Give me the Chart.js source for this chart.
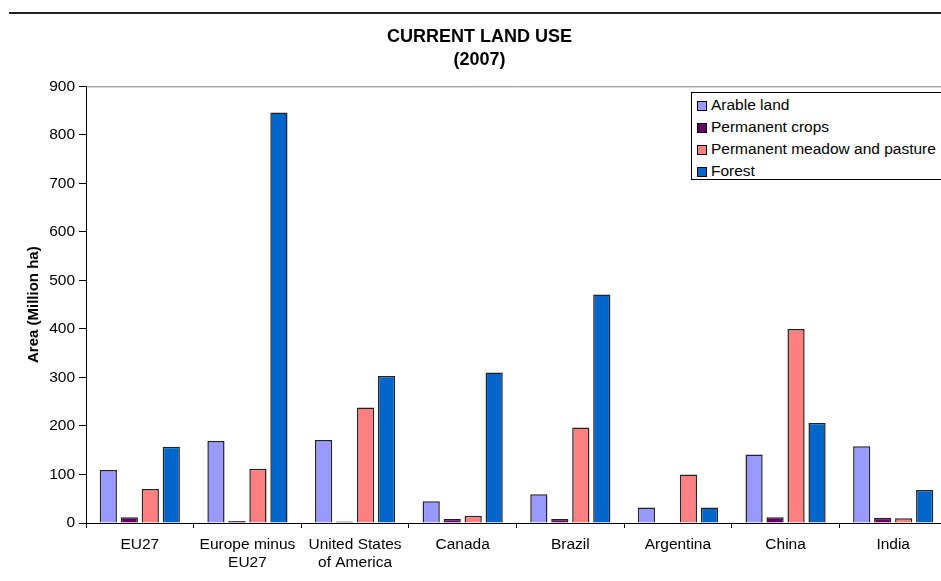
<!DOCTYPE html>
<html>
<head>
<meta charset="utf-8">
<title>Current land use (2007)</title>
<script src="https://cdn.jsdelivr.net/npm/chart.js@4.4.1/dist/chart.umd.min.js"></script>
<style>
  html, body { margin: 0; padding: 0; background: #fff; overflow: hidden; }
  #wrap { position: relative; width: 959px; height: 581px; overflow: hidden; }
  #legend {
    position: absolute; left: 691px; top: 92px; width: 300px; height: 85px;
    border: 1px solid #000; background: #fff; padding-top: 1px;
    font: 15.5px "Liberation Sans", Arial, sans-serif; color: #000;
  }
  #legend div { line-height: 22px; height: 22px; padding-left: 5px; white-space: nowrap; }
  #legend span {
    display: inline-block; width: 8px; height: 8px; border: 1px solid #000;
    margin-right: 4px; vertical-align: -1px;
  }
</style>
</head>
<body>
<div id="wrap">
  <canvas id="landChart"></canvas>
  <div id="legend"></div>
</div>
<script>
// categories and values (million ha)
var countries = ["EU27", ["Europe minus", "EU27"], ["United States", "of America"], "Canada", "Brazil", "Argentina", "China", "India"];
var arableLand = [109, 169, 171, 45, 59, 32, 141, 158];
var permanentCrops = [12, 4, 3, 8, 8, 1, 12, 11];
var meadowPasture = [70, 112, 238, 15, 197, 100, 400, 10];
var forest = [157, 846, 303, 310, 471, 32, 206, 68];
var yTicks = [0, 100, 200, 300, 400, 500, 600, 700, 800, 900];

var seriesNames = ["Arable land", "Permanent crops", "Permanent meadow and pasture", "Forest"];
var seriesColors = ["#9999FF", "#660066", "#FF8080", "#0066CC"];
var seriesData = [arableLand, permanentCrops, meadowPasture, forest];

var fontFamily = '"Liberation Sans", Arial, sans-serif';

// lines above the title and on top of the plot area
var framePlugin = {
  id: 'frame',
  afterDraw: function(chart) {
    var ctx = chart.ctx, area = chart.chartArea;
    ctx.save();
    ctx.strokeStyle = '#222';
    ctx.lineWidth = 2;
    ctx.beginPath();
    ctx.moveTo(9, 13);
    ctx.lineTo(chart.width, 13);
    ctx.stroke();
    ctx.strokeStyle = '#808080';
    ctx.lineWidth = 1;
    ctx.beginPath();
    ctx.moveTo(area.left, area.top + 0.5);
    ctx.lineTo(area.right, area.top + 0.5);
    ctx.stroke();
    ctx.restore();
  }
};

var datasets = [];
for (var i = 0; i < seriesNames.length; i++) {
  datasets.push({
    label: seriesNames[i],
    data: seriesData[i],
    backgroundColor: seriesColors[i],
    borderColor: '#222',
    borderWidth: 1.5,
    categoryPercentage: 0.78,
    barPercentage: 0.82
  });
}

var ctx = document.getElementById('landChart').getContext('2d');
var landChart = new Chart(ctx, {
  type: 'bar',
  data: { labels: countries, datasets: datasets },
  options: {
    responsive: true,
    maintainAspectRatio: false,
    animation: false,
    layout: { padding: { left: 12, right: 12, top: 0, bottom: 0 } },
    plugins: {
      legend: { display: false },
      tooltip: { enabled: false },
      title: {
        display: true,
        text: ["CURRENT LAND USE", "(2007)"],
        color: '#000',
        font: { family: fontFamily, size: 18, weight: 'bold', lineHeight: 1.3 },
        padding: { top: 25, bottom: 14.5 }
      }
    },
    scales: {
      x: {
        grid: { drawOnChartArea: false, offset: true, tickLength: 5, color: '#000' },
        border: { color: '#000', width: 1 },
        ticks: { color: '#000', font: { family: fontFamily, size: 15.5, lineHeight: 1.17 }, padding: 8, maxRotation: 0, autoSkip: false },
        afterFit: function(s) { s.height = 58; }
      },
      y: {
        min: 0,
        max: 900,
        afterBuildTicks: function(s) { s.ticks = yTicks.map(function(v) { return { value: v }; }); },
        grid: { drawOnChartArea: false, tickLength: 7, color: '#000' },
        border: { color: '#000', width: 1 },
        ticks: { color: '#000', font: { family: fontFamily, size: 15.5 }, padding: 4 },
        title: {
          display: true,
          text: 'Area (Million ha)',
          color: '#000',
          font: { family: fontFamily, size: 15, weight: 'bold', lineHeight: 1.2 },
          padding: { top: 13, bottom: 0 }
        },
        afterFit: function(s) { s.width = 74; }
      }
    }
  },
  plugins: [framePlugin]
});

// legend box inside the plot area
var legendBox = document.getElementById('legend');
seriesNames.forEach(function(name, k) {
  var row = document.createElement('div');
  row.innerHTML = '<span style="background:' + seriesColors[k] + '"></span>' + name;
  legendBox.appendChild(row);
});
</script>
</body>
</html>
